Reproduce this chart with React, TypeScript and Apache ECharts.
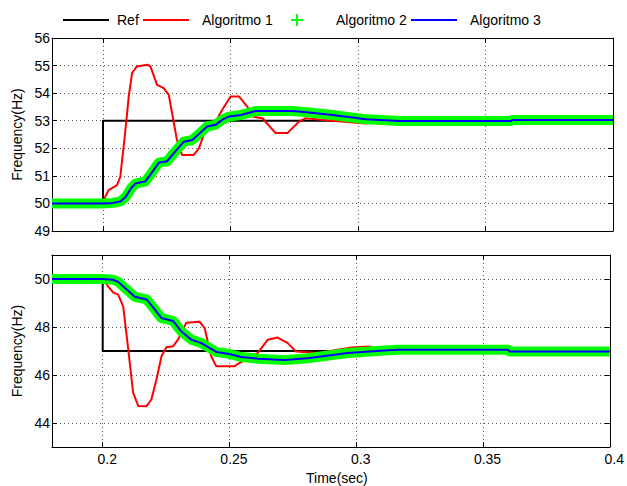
import React, { useEffect, useRef } from 'react';
import * as echarts from 'echarts';

// ---------- data ----------
const xTicks = [0.2, 0.25, 0.3, 0.35, 0.4];
const topYTicks = [49, 50, 51, 52, 53, 54, 55, 56];
const bottomYTicks = [44, 46, 48, 50];

const refTopT = [0.18, 0.2, 0.2, 0.4];
const refTopF = [50, 50, 53, 53];
const refBotT = [0.18, 0.2, 0.2, 0.4];
const refBotF = [50, 50, 47, 47];

const alg1TopT = [0.18, 0.2, 0.2009, 0.2022, 0.2055, 0.2068, 0.2088, 0.2101, 0.2114, 0.2133, 0.2173, 0.2186, 0.2212, 0.2238, 0.2258, 0.2271, 0.229, 0.231, 0.2356, 0.2376, 0.2402, 0.2428, 0.2467, 0.25, 0.2533, 0.2566, 0.2585, 0.2625, 0.2677, 0.2723, 0.2769, 0.2795, 0.29, 0.303, 0.31, 0.4];
const alg1TopF = [50, 50, 50.25, 50.48, 50.66, 50.97, 52.67, 53.88, 54.73, 54.97, 55.03, 54.97, 54.3, 54.18, 53.94, 53.27, 52.3, 51.76, 51.76, 52.0, 52.67, 52.73, 53.39, 53.88, 53.88, 53.51, 53.15, 53.09, 52.55, 52.55, 52.97, 53.09, 53.0, 52.9, 52.97, 53.0];

const alg2TopT = [0.18, 0.2, 0.204, 0.207, 0.209, 0.211, 0.2127, 0.2166, 0.219, 0.2219, 0.2251, 0.228, 0.2317, 0.235, 0.238, 0.2408, 0.2441, 0.247, 0.2494, 0.254, 0.2599, 0.2743, 0.2808, 0.29, 0.3031, 0.3162, 0.36, 0.3605, 0.4];
const alg2TopF = [50, 50, 50.02, 50.08, 50.25, 50.55, 50.72, 50.8, 51.1, 51.48, 51.53, 51.85, 52.24, 52.3, 52.55, 52.79, 52.85, 53.05, 53.15, 53.21, 53.35, 53.35, 53.3, 53.21, 53.05, 52.99, 52.99, 53.03, 53.03];
const alg3TopT = alg2TopT;
const alg3TopF = alg2TopF;

const alg1BotT = [0.18, 0.2, 0.2022, 0.2042, 0.2061, 0.2081, 0.2101, 0.212, 0.214, 0.2173, 0.2192, 0.2212, 0.2232, 0.2251, 0.2278, 0.2297, 0.233, 0.2382, 0.2402, 0.2428, 0.2448, 0.2519, 0.2539, 0.2612, 0.2651, 0.269, 0.273, 0.2762, 0.285, 0.298, 0.305, 0.31, 0.4];
const alg1BotF = [50, 50, 49.68, 49.43, 49.35, 48.85, 47.05, 45.26, 44.71, 44.7, 44.98, 45.81, 46.78, 47.16, 47.2, 47.47, 48.18, 48.22, 47.95, 46.78, 46.36, 46.36, 46.5, 46.92, 47.47, 47.56, 47.33, 46.98, 46.92, 47.15, 47.19, 47.05, 47.0];

const alg2BotT = [0.18, 0.2, 0.204, 0.2061, 0.209, 0.2127, 0.2173, 0.22, 0.2232, 0.2278, 0.231, 0.235, 0.2389, 0.2448, 0.2494, 0.2546, 0.2612, 0.2717, 0.2808, 0.2966, 0.3096, 0.3162, 0.36, 0.3605, 0.4];
const alg2BotF = [50, 50, 49.97, 49.88, 49.6, 49.26, 49.15, 48.8, 48.37, 48.25, 47.81, 47.47, 47.33, 46.96, 46.89, 46.75, 46.68, 46.62, 46.7, 46.92, 47.01, 47.05, 47.05, 46.98, 46.98];
const alg3BotT = alg2BotT;
const alg3BotF = alg2BotF;

const names = ['Ref', 'Algoritmo 1', 'Algoritmo 2', 'Algoritmo 3'];
const colors = ['#000000', '#ff0000', '#00ff00', '#0000ff'];

const zip = (t: number[], f: number[]) => t.map((v, i) => [v, f[i]]);

const FONT = "'Liberation Sans', Arial, Helvetica, sans-serif";
const PLUS = 'path://M5,0 H7 V5 H12 V7 H7 V12 H5 V7 H0 V5 H5 Z';

export default function App() {
  const ref = useRef<HTMLDivElement>(null);
  useEffect(() => {
    if (!ref.current) return;
    const chart = echarts.init(ref.current, null, { renderer: 'svg' });
    const gridLine = { show: true, lineStyle: { color: '#555', type: [1, 3] as any, width: 1 } };
    const axisLine = { show: true, onZero: false, lineStyle: { color: '#000', width: 1 } };
    const tick = (vals: number[]) => ({ show: true, inside: true, length: 5, customValues: vals, lineStyle: { color: '#000' } });
    const label = { fontFamily: FONT, fontSize: 14, color: '#000' };

    const grids = [
      { left: 52, right: 14, top: 38, height: 193 },
      { left: 52, right: 14, top: 255, height: 193 },
    ];
    const xAxes: any[] = [];
    const yAxes: any[] = [];
    [0, 1].forEach((g) => {
      xAxes.push({
        type: 'value', gridIndex: g, min: 0.18, max: 0.4, position: 'bottom',
        axisLine, axisTick: tick(xTicks), splitLine: gridLine,
        axisLabel: g === 1
          ? { ...label, show: true, customValues: xTicks, margin: 5, padding: [0, 0, 0, 9] }
          : { show: false },
        name: g === 1 ? 'Time(sec)' : '', nameLocation: 'middle', nameGap: 24,
        nameTextStyle: { ...label, padding: [0, 0, 0, 12] },
      });
      xAxes.push({
        type: 'value', gridIndex: g, min: 0.18, max: 0.4, position: 'top',
        axisLine, axisTick: tick(xTicks), splitLine: { show: false }, axisLabel: { show: false },
      });
      const yt = g === 0 ? topYTicks : bottomYTicks;
      const ymin = g === 0 ? 49 : 43;
      const ymax = g === 0 ? 56 : 51;
      yAxes.push({
        type: 'value', gridIndex: g, min: ymin, max: ymax, position: 'left',
        axisLine, axisTick: tick(yt), splitLine: gridLine,
        axisLabel: { ...label, customValues: yt, margin: 2 },
        name: 'Frequency(Hz)', nameLocation: 'middle', nameGap: 28, nameTextStyle: label,
      });
      yAxes.push({
        type: 'value', gridIndex: g, min: ymin, max: ymax, position: 'right',
        axisLine, axisTick: tick(yt), splitLine: { show: false }, axisLabel: { show: false },
      });
    });

    const mk = (name: string, data: number[][], g: number, width: number, color: string) => ({
      type: 'line', name, data, xAxisIndex: g * 2, yAxisIndex: g * 2,
      symbol: 'none', showSymbol: false, smooth: false, silent: true,
      lineStyle: { color, width, cap: 'butt', join: 'round' }, itemStyle: { color },
    });

    const series = [
      mk('Ref', zip(refTopT, refTopF), 0, 2, colors[0]),
      mk('Algoritmo 1', zip(alg1TopT, alg1TopF), 0, 2, colors[1]),
      mk('Algoritmo 2', zip(alg2TopT, alg2TopF), 0, 10, colors[2]),
      mk('Algoritmo 3', zip(alg3TopT, alg3TopF), 0, 2, colors[3]),
      mk('Ref', zip(refBotT, refBotF), 1, 2, colors[0]),
      mk('Algoritmo 1', zip(alg1BotT, alg1BotF), 1, 2, colors[1]),
      mk('Algoritmo 2', zip(alg2BotT, alg2BotF), 1, 10, colors[2]),
      mk('Algoritmo 3', zip(alg3BotT, alg3BotF), 1, 2, colors[3]),
    ];

    const legendPos = [
      { left: 62, w: 46, pad: 3 },
      { left: 142, w: 46, pad: 8 },
      { left: 291, w: 12, pad: 28 },
      { left: 410, w: 46, pad: 8 },
    ];
    const hidden = { color: 'rgba(0,0,0,0)', borderColor: 'rgba(0,0,0,0)', borderWidth: 0 };
    const legend = names.map((n, i) => ({
      show: true, left: legendPos[i].left, top: 13, orient: 'horizontal', padding: 0,
      itemWidth: legendPos[i].w, itemHeight: i === 2 ? 12 : 14, itemGap: 0, selectedMode: false,
      data: [i === 2
        ? { name: n, icon: PLUS, itemStyle: { color: colors[2], borderWidth: 0 } }
        : { name: n, itemStyle: hidden }],
      textStyle: { ...label, padding: [0, 0, 0, legendPos[i].pad] },
    }));

    chart.setOption({
      animation: false,
      backgroundColor: '#ffffff',
      textStyle: { fontFamily: FONT },
      grid: grids,
      xAxis: xAxes,
      yAxis: yAxes,
      legend,
      series,
    } as any);
    return () => chart.dispose();
  }, []);
  return <div ref={ref} style={{ position: 'fixed', left: 0, top: 0, width: 627, height: 486 }} />;
}
